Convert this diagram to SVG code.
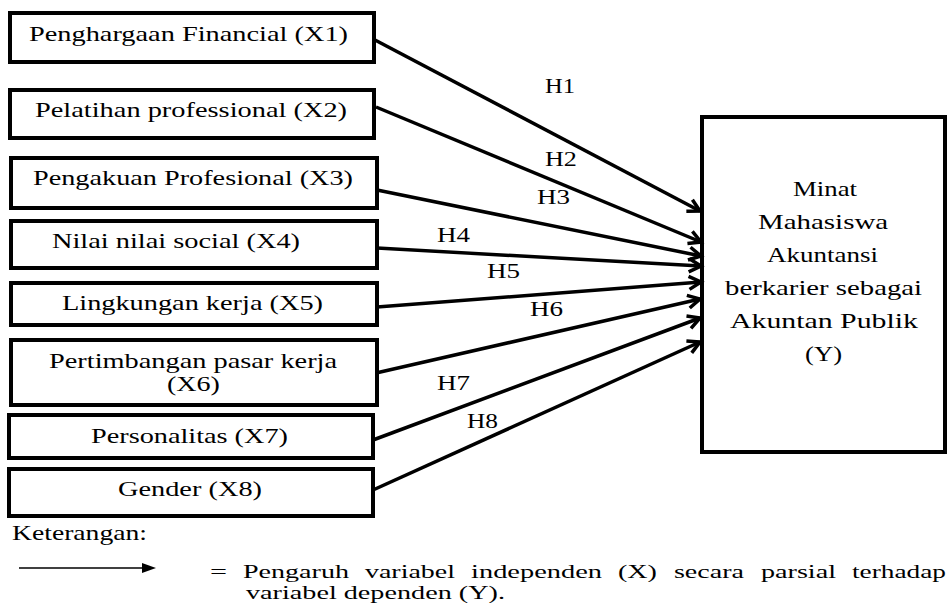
<svg xmlns="http://www.w3.org/2000/svg" width="948" height="604" viewBox="0 0 948 604">
<style>
.box{fill:#fff;stroke:#000;stroke-width:4}
text{font-family:'Liberation Serif','Times New Roman','DejaVu Serif',serif;fill:#000}
.t{font-size:22px}
.h{font-size:20px}
.l{font-size:19px}
.c{fill:none;stroke:#000;stroke-width:3.5;marker-end:url(#arr)}
</style>
<defs>
<marker id="arr" markerUnits="userSpaceOnUse" markerWidth="20" markerHeight="20" refX="15" refY="9" orient="auto" viewBox="0 0 20 20">
<path d="M3,2.5 L15,9 L3,15.5" fill="none" stroke="#000" stroke-width="3.5" stroke-linejoin="miter"/>
</marker>
</defs>
<rect width="948" height="604" fill="#fff"/>
<g id="X1"><rect class="box" x="10" y="13" width="364" height="49"/><text class="t" transform="scale(1.27,1)" x="22.83" y="41" textLength="251.2" lengthAdjust="spacingAndGlyphs">Penghargaan Financial (X1)</text></g>
<g id="X2"><rect class="box" x="10" y="90" width="364" height="48"/><text class="t" transform="scale(1.27,1)" x="27.56" y="117" textLength="245.7" lengthAdjust="spacingAndGlyphs">Pelatihan professional (X2)</text></g>
<g id="X3"><rect class="box" x="11" y="158" width="366" height="50"/><text class="t" transform="scale(1.27,1)" x="25.98" y="185" textLength="252" lengthAdjust="spacingAndGlyphs">Pengakuan Profesional (X3)</text></g>
<g id="X4"><rect class="box" x="11" y="221" width="366" height="47"/><text class="t" transform="scale(1.27,1)" x="40.94" y="248" textLength="195.3" lengthAdjust="spacingAndGlyphs">Nilai nilai social (X4)</text></g>
<g id="X5"><rect class="box" x="11" y="283" width="366" height="42"/><text class="t" transform="scale(1.27,1)" x="48.82" y="310" textLength="205.5" lengthAdjust="spacingAndGlyphs">Lingkungan kerja (X5)</text></g>
<g id="X6"><rect class="box" x="11" y="340" width="366" height="65"/><text class="t" transform="scale(1.27,1)" x="38.58" y="368" textLength="226.8" lengthAdjust="spacingAndGlyphs">Pertimbangan pasar kerja</text><text class="t" transform="scale(1.27,1)" x="131.5" y="391" textLength="41.7" lengthAdjust="spacingAndGlyphs">(X6)</text></g>
<g id="X7"><rect class="box" x="9" y="415" width="364" height="43"/><text class="t" transform="scale(1.27,1)" x="71.65" y="443" textLength="155.1" lengthAdjust="spacingAndGlyphs">Personalitas (X7)</text></g>
<g id="X8"><rect class="box" x="9" y="469" width="364" height="47"/><text class="t" transform="scale(1.27,1)" x="92.91" y="496" textLength="113.4" lengthAdjust="spacingAndGlyphs">Gender (X8)</text></g>
<g id="Y"><rect class="box" x="702" y="117" width="243" height="335" stroke-width="3.5"/>
<text class="t" transform="scale(1.27,1)" x="624.4" y="196" textLength="50.4" lengthAdjust="spacingAndGlyphs">Minat</text>
<text class="t" transform="scale(1.27,1)" x="596.9" y="229" textLength="102.4" lengthAdjust="spacingAndGlyphs">Mahasiswa</text>
<text class="t" transform="scale(1.27,1)" x="603.9" y="262" textLength="87.4" lengthAdjust="spacingAndGlyphs">Akuntansi</text>
<text class="t" transform="scale(1.27,1)" x="570.9" y="295" textLength="155.1" lengthAdjust="spacingAndGlyphs">berkarier sebagai</text>
<text class="t" transform="scale(1.27,1)" x="574.8" y="328" textLength="148" lengthAdjust="spacingAndGlyphs">Akuntan Publik</text>
<text class="t" transform="scale(1.27,1)" x="633.9" y="361" textLength="29.1" lengthAdjust="spacingAndGlyphs">(Y)</text>
</g>
<g id="connectors">
<line class="c" x1="375" y1="40" x2="700" y2="211"/>
<line class="c" x1="376" y1="107" x2="701" y2="242"/>
<line class="c" x1="377" y1="190" x2="701" y2="256"/>
<line class="c" x1="377" y1="248" x2="701" y2="266"/>
<line class="c" x1="377" y1="307" x2="701" y2="282"/>
<line class="c" x1="376" y1="373" x2="700" y2="299"/>
<line class="c" x1="373" y1="440" x2="700" y2="318"/>
<line class="c" x1="373" y1="490" x2="700" y2="342"/>
</g>
<g id="labels">
<text class="h" transform="scale(1.27,1)" x="429.1" y="93" textLength="23.6" lengthAdjust="spacingAndGlyphs">H1</text>
<text class="h" transform="scale(1.27,1)" x="429.1" y="166" textLength="25.2" lengthAdjust="spacingAndGlyphs">H2</text>
<text class="h" transform="scale(1.27,1)" x="422.8" y="204" textLength="26" lengthAdjust="spacingAndGlyphs">H3</text>
<text class="h" transform="scale(1.27,1)" x="344.1" y="242" textLength="26" lengthAdjust="spacingAndGlyphs">H4</text>
<text class="h" transform="scale(1.27,1)" x="383.5" y="278" textLength="26" lengthAdjust="spacingAndGlyphs">H5</text>
<text class="h" transform="scale(1.27,1)" x="417.3" y="316" textLength="26" lengthAdjust="spacingAndGlyphs">H6</text>
<text class="h" transform="scale(1.27,1)" x="344.1" y="390" textLength="26" lengthAdjust="spacingAndGlyphs">H7</text>
<text class="h" transform="scale(1.27,1)" x="367.7" y="428" textLength="24.4" lengthAdjust="spacingAndGlyphs">H8</text>
</g>
<g id="legend">
<text class="t" transform="scale(1.27,1)" x="9.45" y="540" textLength="106.3" lengthAdjust="spacingAndGlyphs">Keterangan:</text>
<line x1="19" y1="568" x2="146" y2="568" stroke="#000" stroke-width="1.5"/>
<polygon points="142,563 156,568 142,573" fill="#000"/>
<text class="l" transform="scale(1.27,1)" x="165.4" y="578" textLength="13.4" lengthAdjust="spacingAndGlyphs">=</text>
<text class="l" transform="scale(1.27,1)" x="191.3" y="578" textLength="83.5" lengthAdjust="spacingAndGlyphs">Pengaruh</text>
<text class="l" transform="scale(1.27,1)" x="287.4" y="578" textLength="70.9" lengthAdjust="spacingAndGlyphs">variabel</text>
<text class="l" transform="scale(1.27,1)" x="370.9" y="578" textLength="103.1" lengthAdjust="spacingAndGlyphs">independen</text>
<text class="l" transform="scale(1.27,1)" x="486.6" y="578" textLength="30.7" lengthAdjust="spacingAndGlyphs">(X)</text>
<text class="l" transform="scale(1.27,1)" x="530.7" y="578" textLength="55.1" lengthAdjust="spacingAndGlyphs">secara</text>
<text class="l" transform="scale(1.27,1)" x="599.2" y="578" textLength="59.1" lengthAdjust="spacingAndGlyphs">parsial</text>
<text class="l" transform="scale(1.27,1)" x="670.9" y="578" textLength="74" lengthAdjust="spacingAndGlyphs">terhadap</text>
<text class="l" transform="scale(1.27,1)" x="193.7" y="599" textLength="203.9" lengthAdjust="spacingAndGlyphs">variabel dependen (Y).</text>
</g>
</svg>
